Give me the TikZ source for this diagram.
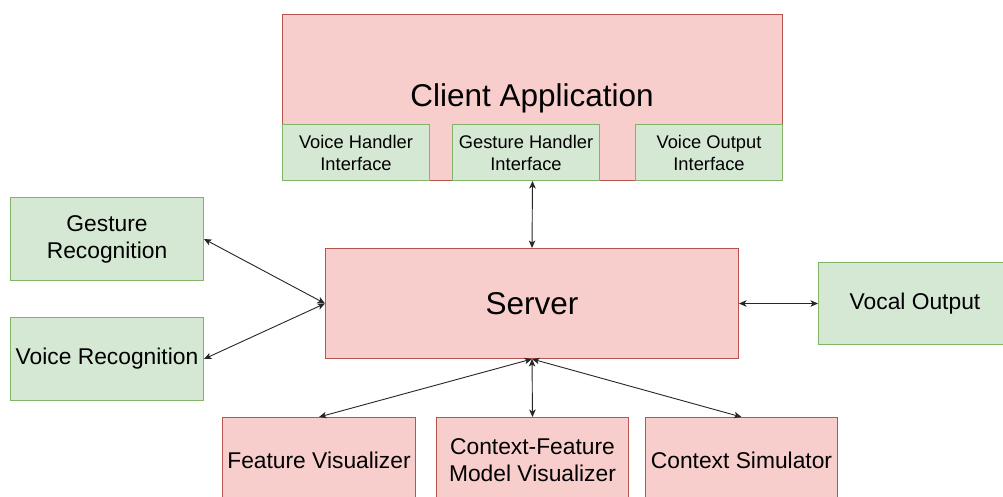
\documentclass[tikz,border=0pt]{standalone}
\usepackage{fontspec}
\setmainfont{Liberation Sans}
\usetikzlibrary{arrows.meta}
\definecolor{redfill}{HTML}{F8CECC}
\definecolor{redline}{HTML}{B85450}
\definecolor{greenfill}{HTML}{D5E8D4}
\definecolor{greenline}{HTML}{82B366}
\tikzset{
  redbox/.style={draw=redline, fill=redfill, line width=1pt, anchor=north west, inner sep=0pt, align=center},
  greenbox/.style={draw=greenline, fill=greenfill, line width=1pt, anchor=north west, inner sep=0pt, align=center},
  link/.style={draw=black!85, line width=0.9pt, {Stealth[length=7.5pt,width=6.5pt,inset=2pt]}-{Stealth[length=7.5pt,width=6.5pt,inset=2pt]}},
  big/.style={font=\fontsize{31.5}{37}\selectfont},
  mid/.style={font=\fontsize{22.8}{27}\selectfont},
  small/.style={font=\fontsize{18.3}{22}\selectfont}
}
\begin{document}
\begin{tikzpicture}[x=1pt, y=-1pt]
\path[use as bounding box, clip] (0,0) rectangle (1003,496);
\fill[white] (0,0) rectangle (1003,496);

% client application with its three interfaces
\node[redbox, minimum width=500pt, minimum height=166pt] (client) at (282,14) {};
\node[big] (clientlbl) at (532,98.5) {Client Application};
\node[greenbox, small, minimum width=147pt, minimum height=56pt] (vhi) at (282,124) {Voice Handler\\Interface};
\node[greenbox, small, minimum width=147pt, minimum height=56pt] (ghi) at (452,124) {Gesture Handler\\Interface};
\node[greenbox, small, minimum width=147pt, minimum height=56pt] (voi) at (635,124) {Voice Output\\Interface};

% server and peripheral services
\node[redbox, big, minimum width=413pt, minimum height=110pt] (server) at (325,248) {Server};
\node[greenbox, mid, minimum width=193pt, minimum height=83pt] (gr) at (10,197) {Gesture\\Recognition};
\node[greenbox, mid, minimum width=193pt, minimum height=83pt] (vr) at (10,317) {Voice Recognition};
\node[greenbox, mid, minimum width=193pt, minimum height=82pt] (vo) at (818,262) {Vocal Output};

% visualizers and simulator
\node[redbox, mid, minimum width=193pt, minimum height=86pt] (fv) at (222,417) {Feature Visualizer};
\node[redbox, mid, minimum width=192pt, minimum height=86pt] (cf) at (436,417) {Context-Feature\\Model Visualizer};
\node[redbox, mid, minimum width=192pt, minimum height=86pt] (cs) at (645,417) {Context Simulator};

% connectors
\draw[link] (client.south) -- (server.north);
\draw[link] (gr.east) -- (server.west);
\draw[link] (vr.east) -- (server.west);
\draw[link] (server.east) -- (vo.west);
\draw[link] (server.south) -- (fv.north);
\draw[link] (server.south) -- (cf.north);
\draw[link] (server.south) -- (cs.north);
\end{tikzpicture}
\end{document}
